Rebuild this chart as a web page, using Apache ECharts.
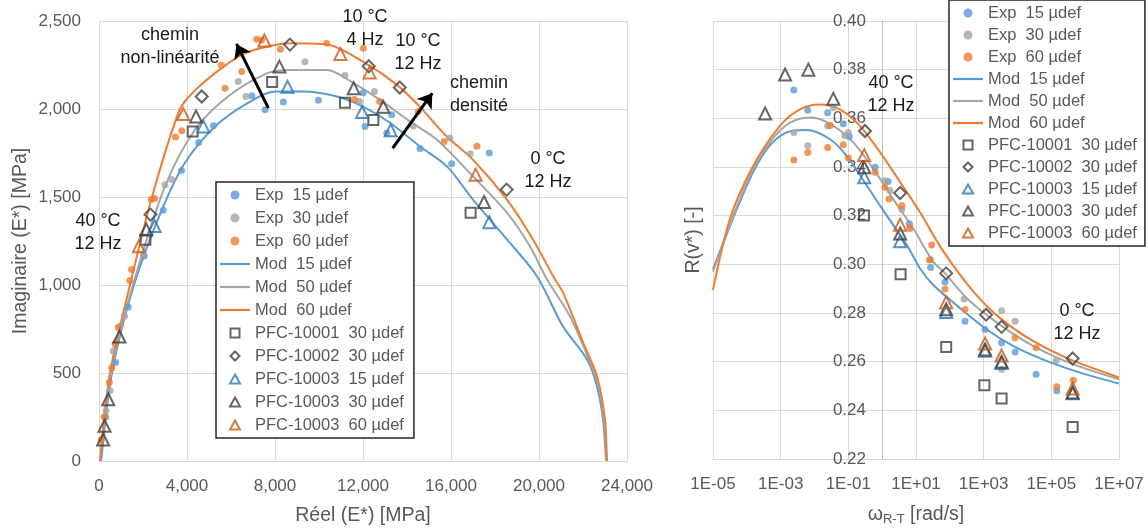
<!DOCTYPE html>
<html><head><meta charset="utf-8">
<script src="https://cdn.jsdelivr.net/npm/echarts@6/dist/echarts.min.js"></script>
<style>html,body{margin:0;padding:0;background:#fff}#c{width:1148px;height:531px}</style>
</head><body><div id="c"></div>
<script>
// ---------- Legend names ----------
const names = ['Exp  15 µdef','Exp  30 µdef','Exp  60 µdef','Mod  15 µdef','Mod  50 µdef','Mod  60 µdef',
  'PFC-10001  30 µdef','PFC-10002  30 µdef','PFC-10003  15 µdef','PFC-10003  30 µdef','PFC-10003  60 µdef'];

// ---------- Left panel: Cole-Cole [Réel, Imaginaire] (MPa) ----------
const ccExp15 = [[300,250],[760,560],[1330,875],[2060,1165],[2920,1425],[3750,1650],[4530,1810],[5200,1905],[6950,2075],[7550,1996],[8380,2040],[9970,2050],[12010,2092],[12090,1901],[13300,1967],[13080,1864],[14590,1776],[16030,1689],[17740,1750]];
const ccExp30 = [[320,285],[500,400],[650,625],[960,767],[1160,824],[2014,1173],[3000,1570],[3300,1599],[6330,2156],[6680,2071],[9360,2269],[11180,2190],[11830,2043],[12520,2099],[14290,1903],[15950,1835],[16870,1746]];
const ccExp60 = [[100,120],[230,250],[470,446],[580,530],[730,665],[880,758],[1400,1025],[1480,1088],[2380,1487],[2530,1492],[3480,1841],[3760,1876],[5560,2248],[5730,2118],[6490,2213],[7170,2396],[7390,2392],[8250,2340],[10350,2373],[11610,2054],[12015,2345],[12760,2043],[14510,1986],[15690,1816],[17180,1788]];
const ccMod15 = [[100,0],[590,500],[1590,1000],[2863,1429],[3909,1695],[5272,1901],[6772,2035],[8000,2099],[9272,2099],[10817,2071],[11999,2014],[13226,1922],[14590,1787],[15817,1674],[16999,1485],[18544,1259],[19907,1050],[21090,765],[22180,578],[22634,425],[22907,238],[23043,11],[23050,0]];
const ccMod50 = [[60,0],[545,500],[1545,1000],[3000,1561],[4363,1882],[5863,2071],[7681,2205],[8680,2222],[10363,2222],[11545,2149],[12772,2052],[14135,1929],[15362,1825],[16999,1617],[18544,1411],[19589,1220],[20362,1032],[21407,822],[22452,521],[22770,400],[23000,150],[23070,0]];
const ccMod60 = [[50,0],[500,500],[1409,1000],[2409,1500],[3681,2000],[4400,2110],[5576,2232],[6636,2317],[8000,2364],[8681,2374],[10363,2366],[11999,2269],[13544,2137],[14589,2012],[15817,1842],[16999,1712],[18544,1485],[19725,1259],[20725,1032],[21090,958],[21998,675],[22634,482],[22998,238],[23089,11],[23100,0]];
const ccPfc1 = [[2110,1257],[4258,1872],[7870,2153],[11180,2036],[12470,1937],[16890,1410]];
const ccPfc2 = [[2340,1400],[4670,2071],[8680,2366],[12260,2243],[13670,2122],[18530,1542]];
const ccPfc3a = [[2530,1335],[4740,1901],[8570,2126],[11960,1983],[13260,1879],[17740,1357]];
const ccPfc3b = [[190,122],[250,200],[420,351],[930,707],[2150,1315],[4410,1957],[8200,2241],[11575,2118],[12920,2013],[17500,1472]];
const ccPfc3c = [[1810,1220],[3830,1971],[7515,2389],[10970,2313],[12300,2208],[17120,1627]];

// ---------- Right panel: [omega (rad/s), R(v*)] ----------
const rvExp15 = [[2.45e-3,0.3716],[6.3e-3,0.3633],[0.0245,0.3623],[0.071,0.3578],[0.107,0.3525],[0.62,0.3399],[1.5,0.334],[6.3,0.3167],[27,0.2987],[72,0.2927],[282,0.2766],[1100,0.2732],[3390,0.2678],[8500,0.264],[35500,0.2548],[1.45e5,0.248]];
const rvExp30 = [[2.45e-3,0.3542],[6.3e-3,0.3487],[0.0245,0.3569],[0.036,0.3644],[0.079,0.3528],[0.1,0.3542],[1.2,0.3344],[1.7,0.3303],[3.8,0.3226],[6.6,0.316],[27,0.302],[263,0.2858],[3390,0.2809],[3390,0.2569],[8500,0.2766],[1.38e5,0.2605]];
const rvExp60 = [[2.45e-3,0.3429],[6.3e-3,0.346],[0.0245,0.348],[0.029,0.3571],[0.071,0.3491],[0.1,0.3437],[0.62,0.3378],[1.2,0.3317],[1.6,0.3269],[3.8,0.3242],[6.6,0.3147],[29,0.3079],[25,0.3018],[72,0.2899],[282,0.2814],[8500,0.2698],[35500,0.2657],[1.45e5,0.2497],[4.47e5,0.2524]];
const rvMod15 = [[1e-5,0.298],[1e-4,0.3324],[3.9e-4,0.3473],[1.5e-3,0.3542],[5.9e-3,0.3552],[0.029,0.3514],[0.089,0.3446],[0.35,0.3324],[1.35,0.3201],[5.4,0.3079],[13,0.2984],[32,0.2916],[200,0.282],[1230,0.2732],[7600,0.2664],[72000,0.2603],[7e5,0.2555],[1e7,0.251]];
const rvMod50 = [[1e-5,0.297],[1e-4,0.3337],[4.8e-4,0.3501],[1.9e-3,0.3582],[8.3e-3,0.3603],[0.036,0.3569],[0.14,0.3501],[0.55,0.3392],[2.1,0.3269],[8.3,0.3147],[32,0.3011],[65,0.297],[316,0.2861],[3000,0.2752],[29500,0.2664],[4.5e5,0.2589],[1e7,0.2528]];
const rvMod60 = [[1e-5,0.2895],[3.2e-5,0.3188],[1.55e-4,0.3405],[9.5e-4,0.3569],[3.7e-3,0.3637],[0.0145,0.3657],[0.056,0.3637],[0.22,0.3569],[0.87,0.346],[3.4,0.3338],[13,0.3215],[65,0.3052],[490,0.2889],[3000,0.278],[29500,0.2684],[4.5e5,0.2603],[1e7,0.2535]];
const rvPfc1 = [[0.29,0.3201],[3.5,0.2959],[78,0.266],[1050,0.2503],[3390,0.2449],[4.27e5,0.2331]];
const rvPfc2 = [[0.31,0.3548],[3.4,0.3293],[78,0.2963],[1175,0.2793],[3390,0.2743],[4.27e5,0.2613]];
const rvPfc3a = [[0.295,0.3358],[3.4,0.3095],[78,0.2804],[1100,0.2645],[3390,0.2595],[4.27e5,0.247]];
const rvPfc3b = [[3.47e-4,0.362],[1.35e-3,0.378],[6.6e-3,0.38],[0.036,0.368],[0.295,0.3399],[3.4,0.3127],[78,0.2815],[1100,0.265],[3390,0.26],[4.27e5,0.2473]];
const rvPfc3c = [[0.295,0.3449],[3.4,0.3163],[78,0.2844],[1100,0.2675],[3390,0.2625],[4.27e5,0.249]];

// ---------- Axis ticks ----------
const ccXTicks = {min:0, max:24000, interval:4000};
const ccYTicks = {min:0, max:2500, interval:500};
const rvXTicks = {min:1e-5, max:1e7};
const rvYTicks = {min:0.22, max:0.40, interval:0.02};

// ---------- Styling ----------
const FONT = 'Liberation Sans';
const C_BLUE = '#5B9BD5', C_GRAY = '#A5A5A5', C_ORANGE = '#ED7D31';
const C_DARK = '#404040', C_TRI_BLUE = '#2E75B6', C_TRI_OR = '#C55A11';
const GRID_C = '#D9D9D9', LABEL_C = '#595959';
const HOLLOW = 'rgba(255,255,255,0)';

const ICON_LINE = 'path://M0,0H30V2.2H0Z';
const ICON_SQ = 'path://M0,0H10V10H0Z';
const ICON_DIA = 'path://M5,0L10,5L5,10L0,5Z';
const ICON_TRI = 'path://M5,0L10,9L0,9Z';

const seriesStyles = [
  {type:'scatter', symbol:'circle', symbolSize:7, icon:'circle', itemStyle:{color:C_BLUE}},
  {type:'scatter', symbol:'circle', symbolSize:7, icon:'circle', itemStyle:{color:C_GRAY}},
  {type:'scatter', symbol:'circle', symbolSize:7, icon:'circle', itemStyle:{color:C_ORANGE}},
  {type:'line', color:C_BLUE, icon:ICON_LINE},
  {type:'line', color:C_GRAY, icon:ICON_LINE},
  {type:'line', color:C_ORANGE, icon:ICON_LINE},
  {type:'scatter', symbol:'rect', symbolSize:10, icon:ICON_SQ, itemStyle:{color:HOLLOW, borderColor:C_DARK, borderWidth:2}},
  {type:'scatter', symbol:'diamond', symbolSize:12, icon:ICON_DIA, itemStyle:{color:HOLLOW, borderColor:C_DARK, borderWidth:2}},
  {type:'scatter', symbol:'triangle', symbolSize:12, icon:ICON_TRI, itemStyle:{color:HOLLOW, borderColor:C_TRI_BLUE, borderWidth:2}},
  {type:'scatter', symbol:'triangle', symbolSize:12, icon:ICON_TRI, itemStyle:{color:HOLLOW, borderColor:C_DARK, borderWidth:2}},
  {type:'scatter', symbol:'triangle', symbolSize:12, icon:ICON_TRI, itemStyle:{color:HOLLOW, borderColor:C_TRI_OR, borderWidth:2}}
];
const ccData = [ccExp15, ccExp30, ccExp60, ccMod15, ccMod50, ccMod60, ccPfc1, ccPfc2, ccPfc3a, ccPfc3b, ccPfc3c];
const rvData = [rvExp15, rvExp30, rvExp60, rvMod15, rvMod50, rvMod60, rvPfc1, rvPfc2, rvPfc3a, rvPfc3b, rvPfc3c];
const drawOrder = [3,4,5,0,1,2,6,7,8,9,10];

function makeSeries(idx, data, axisIdx) {
  const st = seriesStyles[idx];
  const s = {name: names[idx], type: st.type, xAxisIndex: axisIdx, yAxisIndex: axisIdx, data: data, z: st.type==='line'?2:3};
  if (st.type === 'line') {
    s.showSymbol = false; s.symbol = 'none'; s.smooth = 0.3;
    s.lineStyle = {color: st.color, width: 2};
    s.itemStyle = {color: st.color};
  } else {
    s.symbol = st.symbol; s.symbolSize = st.symbolSize; s.itemStyle = st.itemStyle;
  }
  return s;
}
const series = [];
drawOrder.forEach(i => series.push(makeSeries(i, ccData[i], 0)));
drawOrder.forEach(i => series.push(makeSeries(i, rvData[i], 1)));

// arrows (annotations) on the left panel
series.push({
  type:'scatter', xAxisIndex:0, yAxisIndex:0, data:[], silent:true,
  markLine:{silent:true, symbol:['none','arrow'], symbolSize:14, animation:false,
    lineStyle:{color:'#000', width:3, type:'solid'}, label:{show:false},
    data:[[{coord:[7700,2005]},{coord:[6250,2370]}],[{coord:[13350,1778]},{coord:[15150,2090]}]]}
});

const axisLabelStyle = {color: LABEL_C, fontSize: 17, fontFamily: FONT};
const nameStyle = {color: LABEL_C, fontSize: 19.5, fontFamily: FONT};
const legendData = names.map((n, i) => ({name: n, icon: seriesStyles[i].icon}));
const legendBase = {
  orient:'vertical', itemWidth:30, itemHeight:9, symbolKeepAspect:true,
  borderColor:'#262626', borderWidth:1.5, backgroundColor:'#fff',
  textStyle:{color: LABEL_C, fontSize:16.5, fontFamily: FONT, lineHeight:18},
  data: legendData, selectedMode:false, z:10
};
const annot = (x, y, t) => ({type:'text', x:x, y:y, z:20, style:{text:t, align:'center', verticalAlign:'middle', lineHeight:23, fontSize:18, fontFamily:FONT, fill:'#1a1a1a'}});

const fmtExp = v => { const e = Math.round(Math.log10(v)); const a = Math.abs(e); return '1E' + (e < 0 ? '-' : '+') + (a < 10 ? '0' + a : a); };

const option = {
  animation:false,
  backgroundColor:'#fff',
  grid:[
    {left:99, top:21, width:528, height:441},
    {left:713, top:21, width:406, height:441}
  ],
  xAxis:[
    {type:'value', gridIndex:0, min:ccXTicks.min, max:ccXTicks.max, interval:ccXTicks.interval,
     axisLine:{show:true, lineStyle:{color:GRID_C}}, axisTick:{show:false},
     axisLabel:Object.assign({margin:17, formatter:v=>v.toLocaleString('en-US')}, axisLabelStyle),
     splitLine:{show:true, lineStyle:{color:GRID_C}},
     name:'Réel (E*) [MPa]', nameLocation:'middle', nameGap:45, nameTextStyle:nameStyle},
    {type:'log', gridIndex:1, logBase:10, min:rvXTicks.min, max:rvXTicks.max, interval:2,
     axisLine:{show:true, onZero:false, lineStyle:{color:GRID_C}}, axisTick:{show:false},
     axisLabel:Object.assign({margin:17, formatter:fmtExp}, axisLabelStyle),
     splitLine:{show:true, lineStyle:{color:GRID_C}}, minorSplitLine:{show:false},
     name:'ω{sub|R-T} [rad/s]', nameLocation:'middle', nameGap:45,
     nameTextStyle:Object.assign({rich:{sub:{fontSize:13, color:LABEL_C, fontFamily:FONT, padding:[9,0,0,0]}}}, nameStyle)}
  ],
  yAxis:[
    {type:'value', gridIndex:0, min:ccYTicks.min, max:ccYTicks.max, interval:ccYTicks.interval,
     axisLine:{show:true, lineStyle:{color:GRID_C}}, axisTick:{show:false},
     axisLabel:Object.assign({margin:18, formatter:v=>v.toLocaleString('en-US')}, axisLabelStyle),
     splitLine:{show:true, lineStyle:{color:GRID_C}},
     name:'Imaginaire (E*) [MPa]', nameLocation:'middle', nameGap:68, nameTextStyle:nameStyle},
    {type:'value', gridIndex:1, min:rvYTicks.min, max:rvYTicks.max, interval:rvYTicks.interval, offset:-169,
     axisLine:{show:true, onZero:false, lineStyle:{color:'#BFBFBF'}}, axisTick:{show:false},
     axisLabel:Object.assign({margin:16, formatter:v=>v.toFixed(2)}, axisLabelStyle),
     splitLine:{show:true, lineStyle:{color:GRID_C}},
     name:'R(v*) [-]', nameLocation:'middle', nameGap:178, nameTextStyle:nameStyle}
  ],
  legend:[
    Object.assign({left:216, top:182, itemGap:5, padding:[4,10,4,4]}, legendBase),
    Object.assign({left:949, top:0, itemGap:4, padding:[4,8,4,4]}, legendBase)
  ],
  graphic:[
    annot(170, 47, 'chemin\nnon-linéarité'),
    annot(365, 29, '10 °C\n4 Hz'),
    annot(418, 53, '10 °C\n12 Hz'),
    annot(479, 95, 'chemin\ndensité'),
    annot(548, 171, '0 °C\n12 Hz'),
    annot(98, 233, '40 °C\n12 Hz'),
    annot(891, 95, '40 °C\n12 Hz'),
    annot(1077, 323, '0 °C\n12 Hz')
  ],
  series: series
};
const chart = echarts.init(document.getElementById('c'), null, {renderer:'canvas'});
chart.setOption(option);
</script></body></html>
